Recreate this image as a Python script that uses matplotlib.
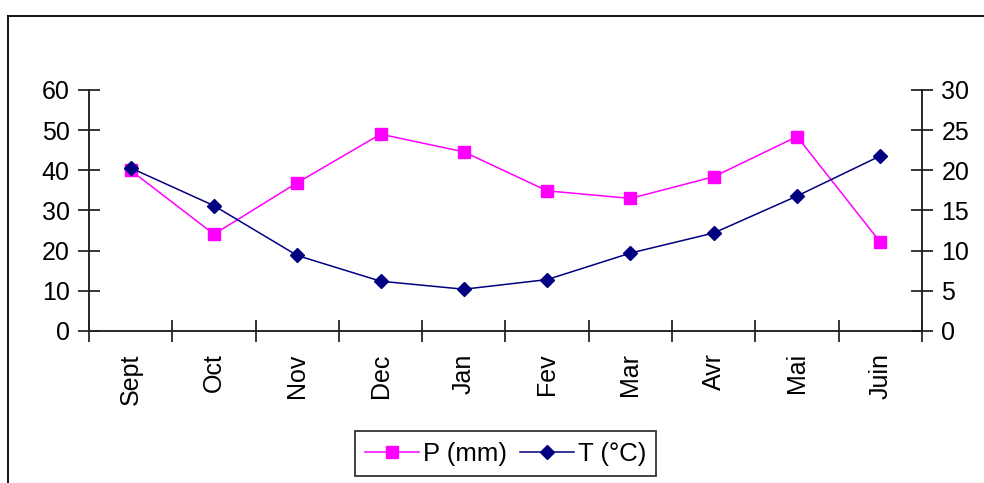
import matplotlib.pyplot as plt
from matplotlib.lines import Line2D

# === Data ===
months = ["Sept", "Oct", "Nov", "Dec", "Jan", "Fev", "Mar", "Avr", "Mai", "Juin"]
precip_mm = [40, 24.1, 36.9, 49, 44.6, 34.9, 33, 38.4, 48.4, 22.1]
temp_c = [20.3, 15.6, 9.4, 6.2, 5.2, 6.4, 9.7, 12.2, 16.8, 21.8]

plt.rcParams["font.family"] = ["Liberation Sans", "DejaVu Sans"]
plt.rcParams["font.size"] = 18

fig = plt.figure(figsize=(9.84, 4.83), dpi=100)
ax = fig.add_axes([0.0904, 0.3147, 0.8466, 0.499])
ax2 = ax.twinx()

x = [i + 0.5 for i in range(len(months))]

ax.plot(x, precip_mm, color="#FF00FF", lw=1.1, marker="s", ms=8.5,
        mec="#FF00FF", mfc="#FF00FF", label="P (mm)", zorder=3)
ax2.plot(x, temp_c, color="#000080", lw=1.1, marker="D", ms=7.5,
         mec="#000080", mfc="#000080", label="T (°C)", zorder=3)

# axes limits / ticks
ax.set_xlim(0, len(months))
ax.set_ylim(0, 60)
ax.set_yticks(range(0, 61, 10))
ax2.set_ylim(0, 30)
ax2.set_yticks(range(0, 31, 5))

ax.set_xticks(range(0, len(months) + 1))
ax.set_xticklabels([])
ax.set_xticks(x, minor=True)
ax.set_xticklabels(months, minor=True, rotation=90, va="top", ha="center")
ax.tick_params(axis="x", which="minor", length=0, pad=16)
ax.tick_params(axis="x", which="major", direction="inout", length=16, width=1.1)
ax.tick_params(axis="y", direction="inout", length=16, width=1.1, pad=6)
ax2.tick_params(axis="y", direction="inout", length=16, width=1.1, pad=6)

for a in (ax, ax2):
    a.spines["top"].set_visible(False)
    for s in ("left", "right", "bottom"):
        a.spines[s].set_linewidth(1.1)
        a.spines[s].set_color("#222222")

# chart frame (left + top edges visible)
fig.add_artist(Line2D([8 / 984, 8 / 984], [-0.05, 1 - 16 / 483],
                      transform=fig.transFigure, color="black", lw=1.3))
fig.add_artist(Line2D([8 / 984, 1.05], [1 - 16 / 483, 1 - 16 / 483],
                      transform=fig.transFigure, color="black", lw=1.3))

h1, l1 = ax.get_legend_handles_labels()
h2, l2 = ax2.get_legend_handles_labels()
leg = fig.legend(h1 + h2, l1 + l2, loc="center", bbox_to_anchor=(0.5137, 0.061),
                 ncol=2, frameon=True, fancybox=False, shadow=False,
                 fontsize=18.5, handlelength=2.1, handletextpad=0.15,
                 columnspacing=0.5, borderpad=0.4, borderaxespad=0)
leg.get_frame().set_edgecolor("black")
leg.get_frame().set_linewidth(1.3)

fig.savefig("out.png", dpi=100)
